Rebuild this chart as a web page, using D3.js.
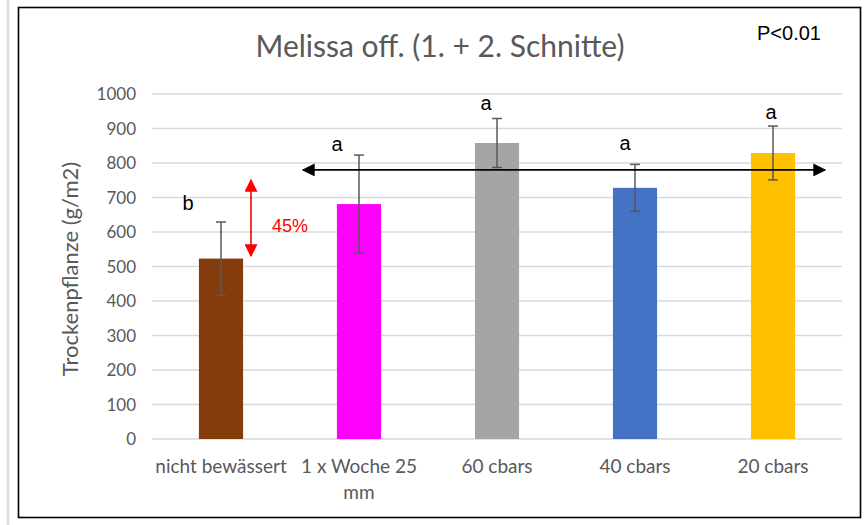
<!doctype html>
<html lang="de">
<head>
  <meta charset="utf-8">
  <title>Melissa off.</title>
  <script src="https://d3js.org/d3.v7.min.js"></script>
  <style>
    body { margin: 0; background: #fff; }
  </style>
</head>
<body>
  <div id="chart"></div>
<script>
  // data
  const categories = ['nicht bewässert', '1 x Woche 25 mm', '60 cbars', '40 cbars', '20 cbars'];
  const values = [523, 681, 858, 728, 829];
  const errors = [106, 142, 71, 68, 78];
  const letters = ['b', 'a', 'a', 'a', 'a'];
  const colors = ['#843c0c', '#ff00ff', '#a5a5a5', '#4472c4', '#ffc000'];
  const yTicks = [0, 100, 200, 300, 400, 500, 600, 700, 800, 900, 1000];

  const W = 865, H = 525;
  const plot = { left: 152, right: 842, top: 94, bottom: 439 };

  const svg = d3.select('#chart').append('svg')
    .attr('width', W).attr('height', H);

  // page edge line + chart frame
  svg.append('line').attr('x1', 8).attr('x2', 8).attr('y1', 0).attr('y2', H)
    .attr('stroke', '#e3e3e3').attr('stroke-width', 3);
  svg.append('rect').attr('x', 18.5).attr('y', 7.5).attr('width', 842).attr('height', 510)
    .attr('fill', '#fff').attr('stroke', '#000').attr('stroke-width', 1.6);

  const x = d3.scaleBand().domain(categories).range([plot.left, plot.right]).paddingInner(0.68).paddingOuter(0.34);
  const y = d3.scaleLinear().domain([0, 1000]).range([plot.bottom, plot.top]);

  // gridlines
  svg.append('g').selectAll('line').data(yTicks).enter().append('line')
    .attr('x1', plot.left).attr('x2', plot.right)
    .attr('y1', d => y(d)).attr('y2', d => y(d))
    .attr('stroke', '#d9d9d9').attr('stroke-width', 1.3);

  // y tick labels
  svg.append('g').selectAll('text').data(yTicks).enter().append('text')
    .attr('x', 136).attr('y', d => y(d) + 6)
    .attr('text-anchor', 'end')
    .style('font', '17px Lato, "Open Sans", sans-serif').style('fill', '#595959')
    .text(d => d);

  // y axis title
  svg.append('text')
    .attr('transform', 'translate(78,269) rotate(-90)')
    .attr('text-anchor', 'middle')
    .style('font', '22px Lato, "Open Sans", sans-serif').style('fill', '#595959')
    .text('Trockenpflanze (g/m2)');

  // title
  svg.append('text').attr('x', 440).attr('y', 57).attr('text-anchor', 'middle')
    .style('font', '30px Lato, "Open Sans", sans-serif').style('fill', '#595959')
    .text('Melissa off. (1. + 2. Schnitte)');
  svg.append('text').attr('x', 789).attr('y', 40).attr('text-anchor', 'middle')
    .style('font', '20px "Liberation Sans", Arial, sans-serif').style('fill', '#000')
    .text('P<0.01');

  // bars
  svg.append('g').selectAll('rect').data(categories).enter().append('rect')
    .attr('x', d => x(d)).attr('width', x.bandwidth())
    .attr('y', (d, i) => y(values[i]))
    .attr('height', (d, i) => y(0) - y(values[i]))
    .attr('fill', (d, i) => colors[i]);

  // error bars
  const eb = svg.append('g').attr('stroke', '#595959').attr('stroke-width', 1.5);
  categories.forEach((c, i) => {
    const cx = x(c) + x.bandwidth() / 2;
    const t = y(values[i] + errors[i]), b = y(values[i] - errors[i]);
    eb.append('line').attr('x1', cx).attr('x2', cx).attr('y1', t).attr('y2', b);
    eb.append('line').attr('x1', cx - 5).attr('x2', cx + 5).attr('y1', t).attr('y2', t);
    eb.append('line').attr('x1', cx - 5).attr('x2', cx + 5).attr('y1', b).attr('y2', b);
  });

  // x category labels
  const xl = svg.append('g').style('font', '19px Lato, "Open Sans", sans-serif').style('fill', '#595959');
  const xLabelLines = [['nicht bewässert'], ['1 x Woche 25', 'mm'], ['60 cbars'], ['40 cbars'], ['20 cbars']];
  categories.forEach((c, i) => {
    const t = xl.append('text').attr('text-anchor', 'middle');
    xLabelLines[i].forEach((s, j) => {
      t.append('tspan').attr('x', x(c) + x.bandwidth() / 2).attr('y', 473 + j * 26).text(s);
    });
  });

  // significance letters
  const letterY = [203, 144, 103, 143, 112];
  const letterX = [188, 337, 486, 625, 771];
  svg.append('g').selectAll('text').data(letters).enter().append('text')
    .attr('x', (d, i) => letterX[i]).attr('y', (d, i) => letterY[i] + 7)
    .attr('text-anchor', 'middle')
    .style('font', '20px "Liberation Sans", Arial, sans-serif').style('fill', '#000')
    .text(d => d);

  // arrow heads
  const defs = svg.append('defs');
  function marker(id, color) {
    defs.append('marker').attr('id', id).attr('viewBox', '0 0 10 10')
      .attr('refX', 9).attr('refY', 5).attr('markerWidth', 15).attr('markerHeight', 13)
      .attr('markerUnits', 'userSpaceOnUse').attr('orient', 'auto-start-reverse')
      .append('path').attr('d', 'M0,0 L10,5 L0,10 z').attr('fill', color);
  }
  marker('blk', '#000');
  marker('red', '#ff0000');

  // black range arrow over the "a" group
  svg.append('line').attr('x1', 303).attr('x2', 825).attr('y1', y(780)).attr('y2', y(780))
    .attr('stroke', '#000').attr('stroke-width', 1.6)
    .attr('marker-start', 'url(#blk)').attr('marker-end', 'url(#blk)');

  // red difference arrow
  svg.append('line').attr('x1', 251).attr('x2', 251).attr('y1', 180).attr('y2', 256)
    .attr('stroke', '#ff0000').attr('stroke-width', 1.6)
    .attr('marker-start', 'url(#red)').attr('marker-end', 'url(#red)');
  svg.append('text').attr('x', 290).attr('y', 232).attr('text-anchor', 'middle')
    .style('font', '18px "Liberation Sans", Arial, sans-serif').style('fill', '#ff0000')
    .text('45%');
</script>
</body>
</html>
